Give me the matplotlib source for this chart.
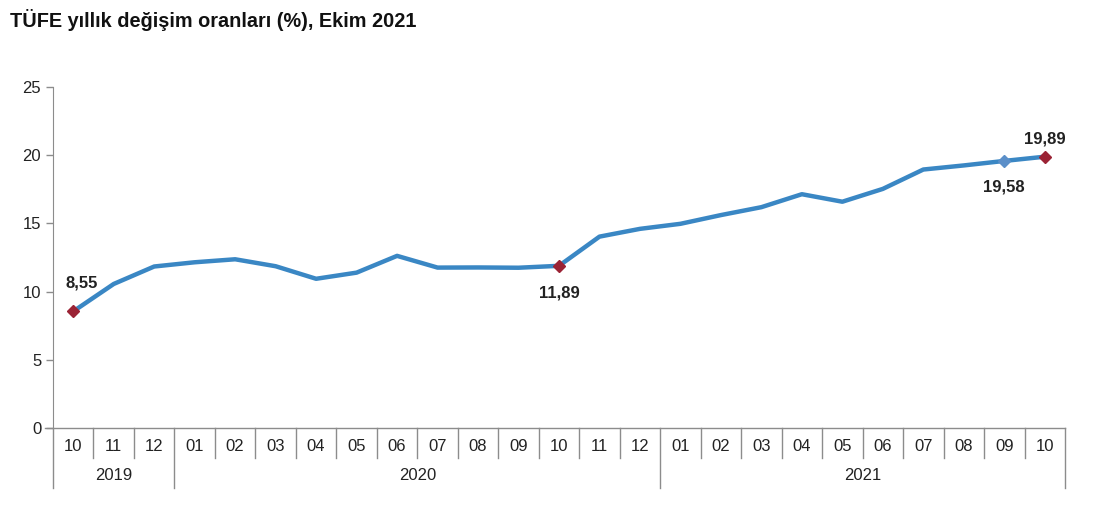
import matplotlib.pyplot as plt
import numpy as np

plt.rcParams['font.family'] = ['Liberation Sans', 'DejaVu Sans']

# Data
months = ['10', '11', '12', '01', '02', '03', '04', '05', '06', '07', '08', '09',
          '10', '11', '12', '01', '02', '03', '04', '05', '06', '07', '08', '09', '10']
years = ['2019', '2020', '2021']
year_counts = [3, 12, 10]
values = [8.55, 10.56, 11.84, 12.15, 12.37, 11.86, 10.94, 11.39, 12.62, 11.76,
          11.77, 11.75, 11.89, 14.03, 14.60, 14.97, 15.61, 16.19, 17.14, 16.59,
          17.53, 18.95, 19.25, 19.58, 19.89]
red_idx = [0, 12, 24]
blue_idx = [23]

axis_col = '#8c8c8c'
line_col = '#3a87c4'
red_col = '#9b2335'
blue_col = '#5b8fc9'

fig = plt.figure(figsize=(11, 5.13), dpi=100)
ax = fig.add_axes([53 / 1100, 85 / 513, 1012 / 1100, 341 / 513])

x = np.arange(len(values))
ax.plot(x, values, color=line_col, lw=3.2, solid_joinstyle='round', zorder=2)
ax.plot(x[red_idx], np.array(values)[red_idx], 'D', color=red_col, ms=6, zorder=3)
ax.plot(x[blue_idx], np.array(values)[blue_idx], 'D', color=blue_col, ms=6, zorder=3)

ax.set_xlim(-0.5, len(values) - 0.5)
ax.set_ylim(0, 25)
ax.set_yticks([0, 5, 10, 15, 20, 25])
ax.set_xticks([])

for s in ['top', 'right', 'bottom']:
    ax.spines[s].set_visible(False)
ax.spines['left'].set_color(axis_col)
ax.tick_params(axis='y', colors=axis_col, labelcolor='#222222', labelsize=12,
               length=5, width=1)

# category axis with boxes
tr = ax.get_xaxis_transform()
ax.plot([-0.7, len(values) - 0.5], [0, 0], color=axis_col, lw=1,
        transform=tr, clip_on=False)
bounds = np.cumsum([0] + year_counts) - 0.5
for i in range(len(values) + 1):
    xb = i - 0.5
    y_end = -0.175 if xb in bounds else -0.088
    ax.plot([xb, xb], [0, y_end], color=axis_col, lw=1, transform=tr, clip_on=False)
for i, m in enumerate(months):
    ax.text(i, -0.055, m, transform=tr, ha='center', va='center',
            fontsize=12, color='#222222')
for k, yr in enumerate(years):
    ax.text((bounds[k] + bounds[k + 1]) / 2, -0.14, yr, transform=tr,
            ha='center', va='center', fontsize=12, color='#222222')

# value labels
lab = dict(ha='center', va='center', fontsize=12, fontweight='bold', color='#222222')
ax.text(0.2, values[0] + 2.1, '8,55', **lab)
ax.text(12, values[12] - 2.0, '11,89', **lab)
ax.text(23, values[23] - 1.9, '19,58', **lab)
ax.text(24, values[24] + 1.3, '19,89', **lab)

fig.text(10 / 1100, 1 - 20 / 513, 'TÜFE yıllık değişim oranları (%), Ekim 2021',
         ha='left', va='center', fontsize=14.3, fontweight='bold', color='#111111')

fig.savefig('out.png', dpi=100)
